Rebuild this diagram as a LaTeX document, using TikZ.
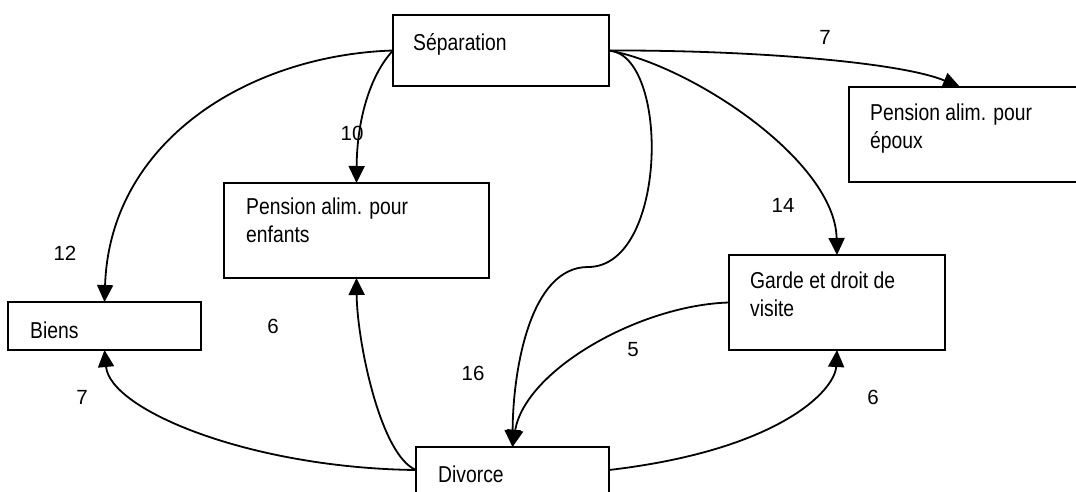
\documentclass[tikz,border=0pt]{standalone}
\usepackage{fontspec}
\setmainfont{Liberation Sans}[FakeStretch=0.84]
\newfontfamily\numfont{Liberation Sans}
\usetikzlibrary{arrows.meta}
\tikzset{
  box/.style={draw, line width=2.2pt, inner sep=0pt, outer sep=0pt, rectangle},
  txt/.style={anchor=base west, inner sep=0pt, align=left, font=\fontsize{23}{27.5}\selectfont},
  num/.style={inner sep=0pt, text depth=0pt, font=\numfont\fontsize{20.5}{24}\selectfont},
  conn/.style={line width=1.8pt, -{Triangle[length=17pt,width=16pt]}},
}
\begin{document}
\begin{tikzpicture}[x=1pt,y=-1pt]
\path[use as bounding box, clip] (0,0) rectangle (1076,491);
% boxes
\node[box, minimum width=216, minimum height=71] (sep) at (501,50.5) {};
\node[box, minimum width=236, minimum height=95] (ep) at (967,134.5) {};
\node[box, minimum width=265, minimum height=95] (enf) at (356.5,230.5) {};
\node[box, minimum width=193, minimum height=48] (biens) at (104.5,326) {};
\node[box, minimum width=216, minimum height=95] (garde) at (837,302.5) {};
\node[box, minimum width=193, minimum height=46] (div) at (512.5,470) {};
% texts (base = last line)
\node[txt] (tsep) at (413,50) {Séparation};
\node[txt] (tep) at (870,148) {Pension alim. pour\\époux};
\node[txt] (tenf) at (246,242) {Pension alim. pour\\enfants};
\node[txt] (tbiens) at (30,338) {Biens};
\node[txt] (tgarde) at (750,316) {Garde et droit de\\visite};
\node[txt] (tdiv) at (438,482) {Divorce};
% numbers
\node[num] (n1) at (825,37) {7};
\node[num] (n2) at (352,133) {10};
\node[num] (n3) at (65,253) {12};
\node[num] (n4) at (273,326) {6};
\node[num] (n5) at (82,397) {7};
\node[num] (n6) at (473,373) {16};
\node[num] (n7) at (633,349) {5};
\node[num] (n8) at (873,397) {6};
\node[num] (n9) at (783,205) {14};
\coordinate (eptip) at ([xshift=-7pt]ep.north);
\coordinate (kink) at (588,267);
% connectors
\draw[conn] (sep.west) .. controls (250,55) and (110,140) .. (biens.north);
\draw[conn] (sep.west) .. controls (370,75) and (357,120) .. (enf.north);
\draw[conn] (sep.east) .. controls (750,50) and (900,62) .. (eptip);
\draw[conn] (sep.east) .. controls (690,65) and (835,160) .. (garde.north);
\draw[conn] (sep.east) .. controls (670,55) and (668,267) .. (kink) .. controls (530,267) and (513,370) .. (div.north);
\draw[conn] (div.west) .. controls (250,468) and (110,410) .. (biens.south);
\draw[conn] (div.west) .. controls (380,455) and (357,340) .. (enf.south);
\draw[conn] (garde.west) .. controls (640,305) and (525,370) .. (div.north);
\draw[conn] (div.east) .. controls (780,450) and (835,390) .. (garde.south);
\end{tikzpicture}
\end{document}
